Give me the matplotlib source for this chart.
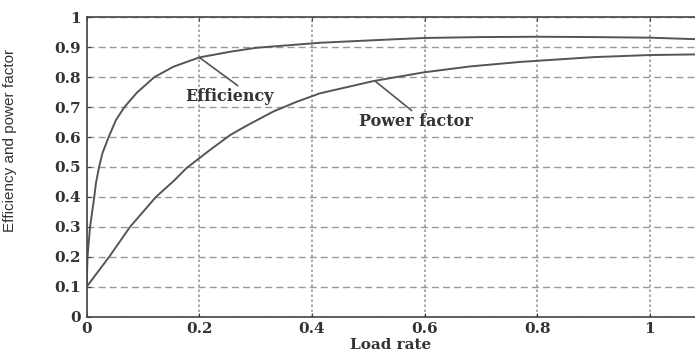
import matplotlib
matplotlib.use("Agg")
import matplotlib.pyplot as plt

# efficiency curve
eff_load = [0, 0.0015, 0.006, 0.0135, 0.0165, 0.022, 0.028, 0.039, 0.052, 0.067,
            0.089, 0.12, 0.154, 0.2, 0.255, 0.3, 0.414, 0.539, 0.6, 0.7, 0.8, 0.9, 1.0, 1.08]
eff_val = [0.10, 0.20, 0.30, 0.40, 0.446, 0.50, 0.546, 0.60, 0.657, 0.70,
           0.748, 0.80, 0.835, 0.866, 0.885, 0.898, 0.915, 0.926, 0.931, 0.934, 0.935, 0.934, 0.932, 0.927]

# power factor curve
pf_load = [0, 0.04, 0.077, 0.123, 0.156, 0.177, 0.219, 0.255, 0.284, 0.331, 0.373,
           0.414, 0.509, 0.598, 0.681, 0.77, 0.9, 1.0, 1.08]
pf_val = [0.10, 0.20, 0.30, 0.40, 0.456, 0.496, 0.557, 0.607, 0.638, 0.685, 0.718,
          0.746, 0.787, 0.816, 0.836, 0.851, 0.867, 0.874, 0.876]

x_ticks = [0, 0.2, 0.4, 0.6, 0.8, 1]
x_tick_labels = ["0", "0.2", "0.4", "0.6", "0.8", "1"]
y_ticks = [0, 0.1, 0.2, 0.3, 0.4, 0.5, 0.6, 0.7, 0.8, 0.9, 1]
y_tick_labels = ["0", "0.1", "0.2", "0.3", "0.4", "0.5", "0.6", "0.7", "0.8", "0.9", "1"]

line_col = "#555555"
txt_col = "#333333"
serif = dict(family="DejaVu Serif", weight="bold", size=11, color=txt_col)

fig = plt.figure(figsize=(6.95, 3.54), dpi=100)
ax = fig.add_axes([0.1247, 0.1054, 0.8753, 0.8457])

ax.plot(eff_load, eff_val, color=line_col, lw=1.4)
ax.plot(pf_load, pf_val, color=line_col, lw=1.4)

ax.set_xlim(0, 1.08)
ax.set_ylim(0, 1)
ax.set_xticks(x_ticks)
ax.set_xticklabels(x_tick_labels, fontdict=serif)
ax.set_yticks(y_ticks)
ax.set_yticklabels(y_tick_labels, fontdict=serif)
ax.tick_params(direction="in", length=3, color="#444444", top=True, pad=4)

# grid: dashed horizontal, dotted vertical
ax.yaxis.grid(True, linestyle=(0, (5, 3)), color="#999999", lw=1)
ax.xaxis.grid(True, linestyle=(0, (1.5, 1.5)), color="#999999", lw=1.2)
ax.set_axisbelow(True)

for s in ["left", "bottom", "top"]:
    ax.spines[s].set_color("#444444")
    ax.spines[s].set_linewidth(1.2)
ax.spines["right"].set_visible(False)

ax.set_xlabel("Load rate", fontdict=serif, labelpad=1)
ax.set_ylabel("Efficiency and power factor", family=["Liberation Sans", "DejaVu Sans"],
              size=11, color=txt_col)
ax.yaxis.set_label_coords(-0.115, 0.59)

ax.annotate("Efficiency", xy=(0.2, 0.866), xytext=(0.253, 0.734), ha="center", va="center",
            fontsize=11.5, family="DejaVu Serif", weight="bold", color=txt_col,
            arrowprops=dict(arrowstyle="-", color=line_col, lw=1.2, relpos=(0.64, 1.0),
                            shrinkA=0, shrinkB=0))
ax.annotate("Power factor", xy=(0.512, 0.787), xytext=(0.585, 0.651), ha="center", va="center",
            fontsize=11.5, family="DejaVu Serif", weight="bold", color=txt_col,
            arrowprops=dict(arrowstyle="-", color=line_col, lw=1.2, relpos=(0.49, 1.0),
                            shrinkA=0, shrinkB=0))

fig.savefig("out.png", dpi=100)
